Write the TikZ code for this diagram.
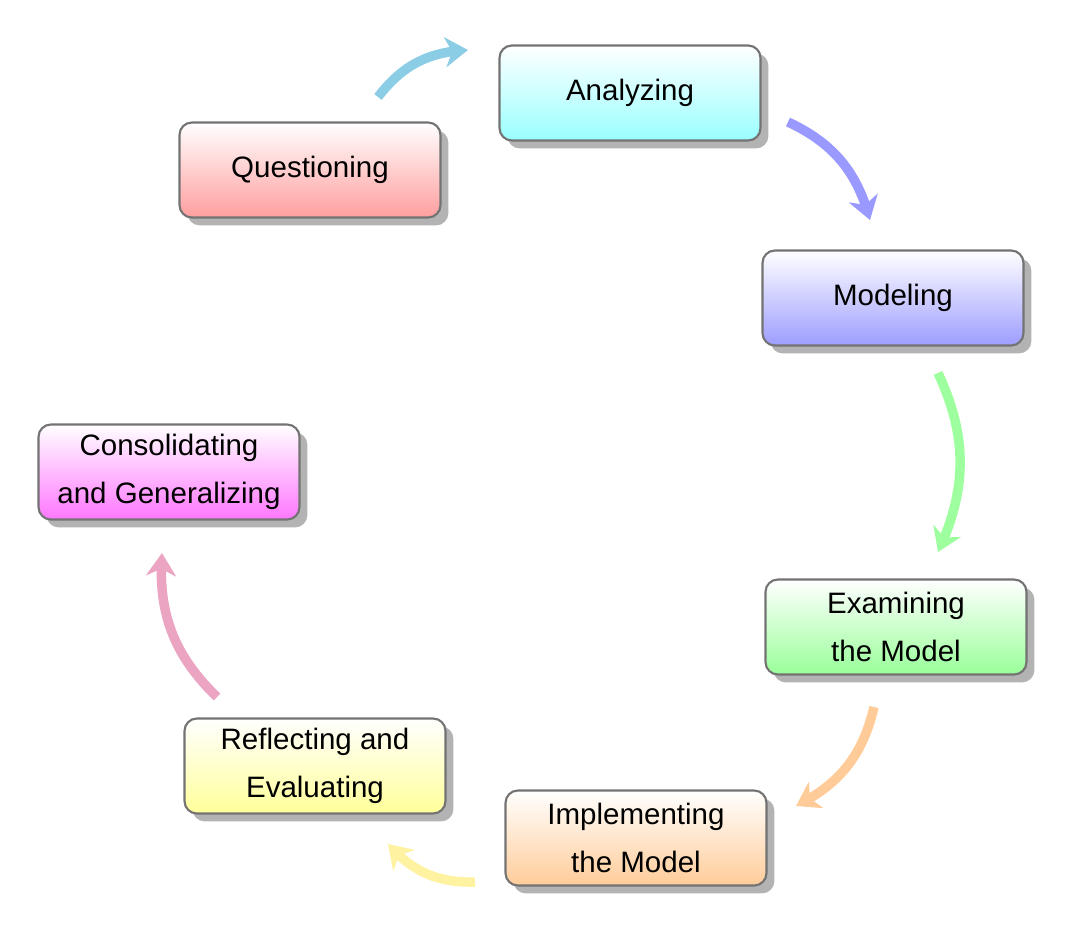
\documentclass[tikz,border=0pt]{standalone}
\usepackage{fontspec}
\setmainfont{Liberation Sans}
\usetikzlibrary{shadows,arrows.meta,bending}
\definecolor{cQ}{HTML}{FF9E9E}
\definecolor{cA}{HTML}{99FFFF}
\definecolor{cM}{HTML}{9D9DFF}
\definecolor{cE}{HTML}{99FF99}
\definecolor{cI}{HTML}{FFCC99}
\definecolor{cR}{HTML}{FFFF99}
\definecolor{cC}{HTML}{FF77FF}
\definecolor{aQA}{HTML}{8CCDE6}
\definecolor{aAM}{HTML}{9999FF}
\definecolor{aME}{HTML}{9DFF9D}
\definecolor{aEI}{HTML}{FFCC99}
\definecolor{aIR}{HTML}{FFF2A0}
\definecolor{aRC}{HTML}{EBA5C3}
\begin{document}
\begin{tikzpicture}[x=0.02cm,y=-0.02cm,
  module/.style={draw=black!55, line width=1.2pt, rounded corners=7pt,
    minimum width=5.22cm, minimum height=1.9cm, align=center,
    font=\fontsize{16.8}{27}\selectfont, top color=white,
    drop shadow={shadow xshift=4.5pt, shadow yshift=-4.5pt, fill=black!40, opacity=0.75}},
  cyc/.style={line width=5.4pt, -{Stealth[length=13pt,width=17pt,inset=4pt]}, bend left=25}]
\useasboundingbox (0,0) rectangle (1076,936);
\node[module, bottom color=cQ] (q) at (310,170) {Questioning};
\node[module, bottom color=cA] (a) at (630,93) {Analyzing};
\node[module, bottom color=cM] (m) at (893,298) {Modeling};
\node[module, bottom color=cE] (e) at (896,627) {Examining\\the Model};
\node[module, bottom color=cI] (i) at (636,838) {Implementing\\the Model};
\node[module, bottom color=cR] (r) at (315,766) {Reflecting and\\Evaluating};
\node[module, bottom color=cC] (c) at (169,472) {Consolidating\\and Generalizing};
\coordinate (qa1) at (378,97);  \coordinate (qa2) at (468,50);
\coordinate (am1) at (788,122); \coordinate (am2) at (870,220);
\coordinate (me1) at (938,373); \coordinate (me2) at (938,552);
\coordinate (ei1) at (874,707); \coordinate (ei2) at (796,806);
\coordinate (ir1) at (475,882); \coordinate (ir2) at (388,844);
\coordinate (rc1) at (217,697); \coordinate (rc2) at (162,553);
\draw[cyc, aQA] (qa1) to (qa2);
\draw[cyc, aAM] (am1) to (am2);
\draw[cyc, aME] (me1) to (me2);
\draw[cyc, aEI] (ei1) to (ei2);
\draw[cyc, aIR] (ir1) to (ir2);
\draw[cyc, aRC] (rc1) to (rc2);
\end{tikzpicture}
\end{document}
